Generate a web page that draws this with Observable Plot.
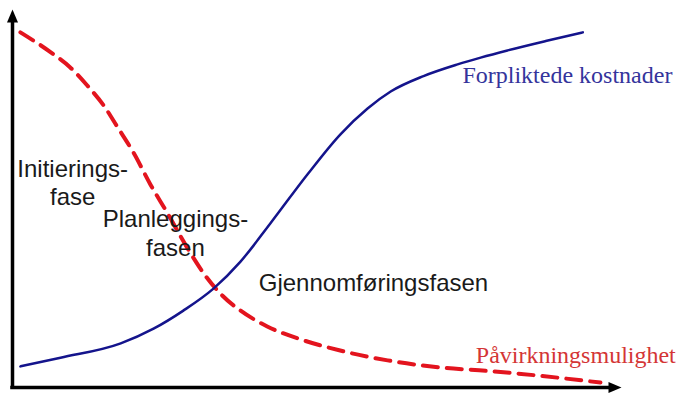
<!DOCTYPE html>
<html><head><meta charset="utf-8">
<script src="https://cdn.jsdelivr.net/npm/d3@7"></script>
<script src="https://cdn.jsdelivr.net/npm/@observablehq/plot@0.6"></script>
<style>body{margin:0;background:#fff}</style>
</head><body><div id="chart"></div>
<script>
// Forpliktede kostnader (blue, solid)
const costX = [1.3, 7.9, 17.8, 23.2, 28.1, 33.1, 37.5, 42.4, 48.5, 53.9, 58.4, 62.2, 67.6, 73.2, 77.0, 81.4, 87.7, 93.8];
const costY = [5.6, 7.9, 11.7, 15.6, 20.4, 26.3, 33.4, 43.5, 56.5, 67.1, 74.0, 78.5, 82.6, 85.7, 87.5, 89.4, 91.9, 94.2];
// Påvirkningsmulighet (red, dashed)
const inflX = [1.3, 6.3, 9.5, 12.3, 15.0, 17.3, 19.9, 22.7, 25.5, 28.8, 31.7, 34.5, 37.5, 41.9, 47.9, 53.9, 61.7, 70.4, 78.1, 86.8, 96.7];
const inflY = [94.2, 88.9, 84.9, 80.1, 74.8, 69.0, 62.3, 53.8, 46.2, 36.9, 29.7, 24.4, 20.4, 16.2, 12.5, 9.8, 7.2, 5.3, 4.4, 3.1, 1.3];
const phaseLabels = ["Initierings-\nfase", "Planleggings-\nfasen", "Gjennomføringsfasen"];
const seriesLabels = ["Forpliktede kostnader", "Påvirkningsmulighet"];
const xDomain = [0, 100];
const yDomain = [0, 100];

const cost = costX.map((x, i) => ({x, y: costY[i]}));
const infl = inflX.map((x, i) => ({x, y: inflY[i]}));

const arrowHead = {draw(ctx) { ctx.moveTo(0, -1); ctx.lineTo(5.5, 12); ctx.lineTo(-5.5, 12); ctx.closePath(); }};
const sans = "'Liberation Sans', Arial, sans-serif";
const serif = "'Liberation Serif', 'Times New Roman', serif";

const chart = Plot.plot({
  width: 680, height: 394,
  marginLeft: 12, marginRight: 60, marginTop: 10, marginBottom: 7,
  x: {domain: xDomain, axis: null},
  y: {domain: yDomain, axis: null},
  style: {background: "#fff", overflow: "visible"},
  marks: [
    Plot.ruleX([xDomain[0]], {y1: yDomain[0], y2: yDomain[1] - 2, stroke: "#000", strokeWidth: 3.5, strokeLinecap: "square"}),
    Plot.ruleY([yDomain[0]], {x1: xDomain[0], x2: xDomain[1] - 2, stroke: "#000", strokeWidth: 3.5, strokeLinecap: "square"}),
    Plot.dot([0], {x: xDomain[0], y: yDomain[1], symbol: arrowHead, fill: "#000", stroke: null}),
    Plot.dot([0], {x: xDomain[1], y: yDomain[0], symbol: arrowHead, fill: "#000", stroke: null, rotate: 90}),
    Plot.line(infl, {x: "x", y: "y", stroke: "#e3141e", strokeWidth: 4, strokeDasharray: "15,9", curve: "monotone-x"}),
    Plot.line(cost, {x: "x", y: "y", stroke: "#14148c", strokeWidth: 2.5, curve: "monotone-x"}),
    Plot.text([phaseLabels[0]], {x: 9.9, y: 48.5, text: d => d, fontFamily: sans, fontSize: 24, fill: "#1a1a1a", textAnchor: "middle", lineAnchor: "bottom", lineHeight: 1.17}),
    Plot.text([phaseLabels[1]], {x: 26.8, y: 35.0, text: d => d, fontFamily: sans, fontSize: 24, fill: "#1a1a1a", textAnchor: "middle", lineAnchor: "bottom", lineHeight: 1.2}),
    Plot.text([phaseLabels[2]], {x: 40.5, y: 25.7, text: d => d, fontFamily: sans, fontSize: 24, fill: "#1a1a1a", textAnchor: "start", lineAnchor: "bottom"}),
    Plot.text([seriesLabels[0]], {x: 74.0, y: 80.9, text: d => d, fontFamily: serif, fontSize: 24, fill: "#34349c", textAnchor: "start", lineAnchor: "bottom"}),
    Plot.text([seriesLabels[1]], {x: 76.2, y: 6.4, text: d => d, fontFamily: serif, fontSize: 24, fill: "#d43535", textAnchor: "start", lineAnchor: "bottom"})
  ]
});
document.getElementById("chart").appendChild(chart);
</script>
</body></html>
